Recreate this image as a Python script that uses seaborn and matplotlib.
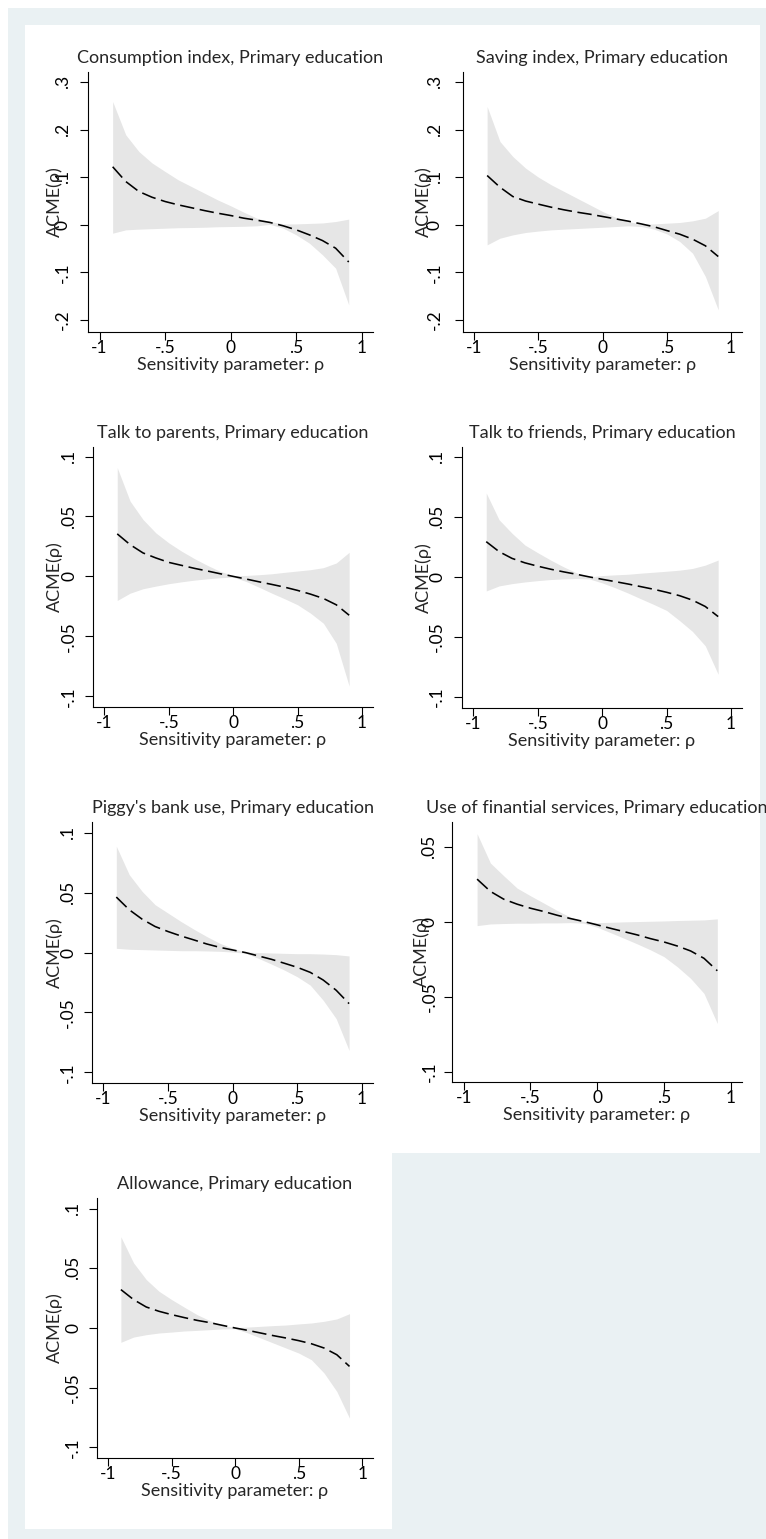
import numpy as np
import pandas as pd
import seaborn as sns
import matplotlib.pyplot as plt
from matplotlib.patches import Rectangle

sns.set_style("ticks")
plt.rcParams['font.family'] = ['Lato', 'DejaVu Sans']

# sensitivity parameter grid
rho = [-0.9, -0.8, -0.7, -0.6, -0.5, -0.4, -0.3, -0.2, -0.1, 0.0,
       0.1, 0.2, 0.3, 0.4, 0.5, 0.6, 0.7, 0.8, 0.9]

titles = ["Consumption index, Primary education",
          "Saving index, Primary education",
          "Talk to parents, Primary education",
          "Talk to friends, Primary education",
          "Piggy's bank use, Primary education",
          "Use of finantial services, Primary education",
          "Allowance, Primary education"]

# ACME estimates and confidence bounds
consumption_mean = [0.122, 0.091, 0.070, 0.058, 0.049, 0.042, 0.036, 0.030, 0.0245, 0.0196,
                    0.014, 0.0098, 0.005, -0.002, -0.0105, -0.021, -0.033, -0.049, -0.078]
consumption_hi = [0.259, 0.189, 0.154, 0.130, 0.112, 0.0945, 0.0805, 0.0665, 0.0525, 0.040,
                  0.0266, 0.014, 0.007, 0.002, 0.002, 0.003, 0.004, 0.007, 0.012]
consumption_lo = [-0.0175, -0.0105, -0.009, -0.008, -0.007, -0.006, -0.0056, -0.005, -0.004, -0.0035,
                  -0.003, -0.002, 0.001, -0.007, -0.021, -0.0385, -0.063, -0.091, -0.168]

saving_mean = [0.1036, 0.079, 0.0595, 0.050, 0.0434, 0.037, 0.0315, 0.0266, 0.0224, 0.0175,
               0.0126, 0.0077, 0.002, -0.004, -0.012, -0.0196, -0.030, -0.044, -0.0665]
saving_hi = [0.2486, 0.175, 0.1435, 0.119, 0.100, 0.084, 0.070, 0.056, 0.042, 0.028,
             0.016, 0.007, 0.0014, 0.002, 0.0035, 0.005, 0.0084, 0.014, 0.030]
saving_lo = [-0.042, -0.028, -0.021, -0.016, -0.013, -0.0105, -0.009, -0.0077, -0.0063, -0.005,
             -0.0035, -0.002, -0.0035, -0.009, -0.019, -0.035, -0.0595, -0.1085, -0.1786]

parents_mean = [0.0355, 0.0265, 0.0196, 0.0154, 0.0117, 0.0092, 0.0067, 0.0045, 0.0022, 0.0,
                -0.0022, -0.0045, -0.0067, -0.009, -0.0117, -0.0148, -0.0184, -0.0237, -0.0324]
parents_hi = [0.0908, 0.0628, 0.0475, 0.0363, 0.028, 0.021, 0.0148, 0.0092, 0.0042, 0.0006,
              0.0008, 0.0014, 0.0022, 0.0034, 0.0045, 0.0056, 0.0073, 0.0112, 0.0201]
parents_lo = [-0.0201, -0.014, -0.0103, -0.0081, -0.0061, -0.0045, -0.0031, -0.002, -0.0011, -0.0006,
              -0.0042, -0.009, -0.014, -0.0187, -0.0237, -0.0307, -0.0391, -0.0559, -0.0916]

friends_mean = [0.0293, 0.021, 0.0154, 0.0117, 0.0089, 0.0064, 0.0042, 0.0022, 0.0, -0.002,
                -0.0039, -0.0059, -0.0081, -0.0103, -0.0128, -0.0156, -0.0193, -0.0246, -0.033]
friends_hi = [0.0698, 0.0475, 0.0363, 0.0265, 0.0201, 0.014, 0.0084, 0.0034, 0.0, 0.0011,
              0.0017, 0.0022, 0.0031, 0.0039, 0.0047, 0.0056, 0.007, 0.0098, 0.014]
friends_lo = [-0.0117, -0.0075, -0.0056, -0.0042, -0.0031, -0.0022, -0.0017, -0.0014, -0.0017, -0.005,
              -0.009, -0.0134, -0.0182, -0.0229, -0.0279, -0.0363, -0.0453, -0.0573, -0.081]

piggy_mean = [0.0463, 0.0357, 0.0278, 0.0217, 0.0175, 0.0138, 0.0105, 0.0071, 0.0043, 0.0021,
              -0.0001, -0.0029, -0.0057, -0.009, -0.0124, -0.0166, -0.023, -0.0315, -0.0427]
piggy_hi = [0.0888, 0.065, 0.051, 0.0399, 0.0329, 0.0259, 0.0194, 0.0133, 0.0077, 0.0035,
            0.0004, -0.0001, -0.0004, -0.0007, -0.001, -0.001, -0.0013, -0.0018, -0.0029]
piggy_lo = [0.0035, 0.0027, 0.0024, 0.0021, 0.0018, 0.0015, 0.0015, 0.0013, 0.001, 0.0004,
            -0.0007, -0.0049, -0.0097, -0.0147, -0.0203, -0.0273, -0.0399, -0.0552, -0.0818]

services_mean = [0.0286, 0.0204, 0.0152, 0.0119, 0.0092, 0.007, 0.0045, 0.0023, 0.0003, -0.0019,
                 -0.0042, -0.0064, -0.0086, -0.0111, -0.0133, -0.016, -0.0193, -0.0242, -0.0325]
services_hi = [0.0589, 0.0393, 0.0308, 0.0226, 0.0175, 0.0126, 0.0077, 0.0032, 0.0003, -0.0004,
               -0.0002, 0.0001, 0.0003, 0.0005, 0.0007, 0.001, 0.0012, 0.0014, 0.0021]
services_lo = [-0.0024, -0.0013, -0.001, -0.0008, -0.0008, -0.0006, -0.0006, -0.0004, -0.0008, -0.0035,
               -0.0071, -0.0108, -0.0146, -0.0186, -0.0231, -0.0298, -0.0376, -0.0476, -0.0677]

allowance_mean = [0.0322, 0.0238, 0.0176, 0.014, 0.0112, 0.0087, 0.0064, 0.0045, 0.0022, 0.0,
                  -0.002, -0.0042, -0.0064, -0.0084, -0.0106, -0.0132, -0.0168, -0.0224, -0.0322]
allowance_hi = [0.0765, 0.0546, 0.0406, 0.0308, 0.0238, 0.0174, 0.0112, 0.0062, 0.0022, 0.0003,
                0.0008, 0.0014, 0.002, 0.0025, 0.0034, 0.0042, 0.0056, 0.0076, 0.012]
allowance_lo = [-0.012, -0.0076, -0.0056, -0.0042, -0.0034, -0.0025, -0.002, -0.0014, -0.0008, -0.0006,
                -0.0042, -0.0084, -0.0126, -0.0168, -0.021, -0.0266, -0.0378, -0.0532, -0.0756]

x_ticks = [-1, -0.5, 0, 0.5, 1]
x_ticklabels = ["-1", "-.5", "0", ".5", "1"]
yt_wide = [-0.2, -0.1, 0, 0.1, 0.2, 0.3]
yl_wide = ["-.2", "-.1", "0", ".1", ".2", ".3"]
yt_narrow = [-0.1, -0.05, 0, 0.05, 0.1]
yl_narrow = ["-.1", "-.05", "0", ".05", ".1"]
yt_services = [-0.1, -0.05, 0, 0.05]
yl_services = ["-.1", "-.05", "0", ".05"]

series = [(consumption_mean, consumption_lo, consumption_hi),
          (saving_mean, saving_lo, saving_hi),
          (parents_mean, parents_lo, parents_hi),
          (friends_mean, friends_lo, friends_hi),
          (piggy_mean, piggy_lo, piggy_hi),
          (services_mean, services_lo, services_hi),
          (allowance_mean, allowance_lo, allowance_hi)]
yticks = [(yt_wide, yl_wide), (yt_wide, yl_wide), (yt_narrow, yl_narrow), (yt_narrow, yl_narrow),
          (yt_narrow, yl_narrow), (yt_services, yl_services), (yt_narrow, yl_narrow)]
ylims = [(-0.225, 0.321), (-0.225, 0.321), (-0.109, 0.108), (-0.109, 0.108),
         (-0.109, 0.109), (-0.1067, 0.0667), (-0.109, 0.109)]

# layout in pixels (left, top, right, bottom) of each plot region, ylabel right edge, tick pad
W, H = 766, 1539
boxes = [(88, 72, 373, 332), (463, 72, 742, 332),
         (93, 447, 373, 707), (462, 447, 742, 708),
         (92, 822, 373, 1083), (452, 822, 742, 1082),
         (97, 1198, 373, 1458)]
ylab_x = [63, 432, 63, 432, 63, 430, 63]
ypads = [6.8, 9.0, 5.8, 6.5, 5.8, 5.0, 5.8]

BG = "#EAF1F3"
BAND = "#E6E6E6"

fig = plt.figure(figsize=(W / 100, H / 100), dpi=100)
fig.patch.set_facecolor("white")


def px_rect(x0, y0, x1, y1, color):
    fig.patches.append(Rectangle((x0 / W, 1 - y1 / H), (x1 - x0) / W, (y1 - y0) / H,
                                 transform=fig.transFigure, facecolor=color,
                                 edgecolor="none", zorder=-10))


px_rect(8, 8, W, H, BG)
cols = [(25, 392), (392, 760)]
rows = [(25, 401), (401, 777), (777, 1153), (1153, 1529)]
for i in range(7):
    cx = cols[i % 2]
    cy = rows[i // 2]
    px_rect(cx[0], cy[0], cx[1], cy[1], "white")

for i, (mean, lo, hi) in enumerate(series):
    l, t, r, b = boxes[i]
    ax = fig.add_axes([l / W, 1 - b / H, (r - l) / W, (b - t) / H])
    ax.set_facecolor("white")
    ax.fill_between(rho, lo, hi, color=BAND, linewidth=0, zorder=1)
    df = pd.DataFrame({"rho": rho, "acme": mean})
    sns.lineplot(data=df, x="rho", y="acme", ax=ax, color="black",
                 linestyle=(0, (9, 3.5)), linewidth=1.15, zorder=2)
    ax.set_xlim(-1.088, 1.085)
    ax.set_ylim(*ylims[i])
    ax.set_xticks(x_ticks)
    ax.set_xticklabels(x_ticklabels)
    ax.set_yticks(yticks[i][0])
    ax.set_yticklabels(yticks[i][1], rotation=90, va="center")
    for side in ["top", "right"]:
        ax.spines[side].set_visible(False)
    for side in ["left", "bottom"]:
        ax.spines[side].set_color("black")
        ax.spines[side].set_linewidth(0.8)
    ax.tick_params(axis="both", direction="out", length=5.5, width=0.8,
                   color="black", labelsize=12.5, labelcolor="black")
    ax.tick_params(axis="x", pad=0.5)
    ax.tick_params(axis="y", pad=ypads[i])
    ax.set_xlabel("Sensitivity parameter: ρ", fontsize=13, labelpad=0.5)
    ax.set_ylabel("ACME(ρ)", fontsize=13)
    ax.yaxis.set_label_coords((ylab_x[i] - l) / (r - l), 0.5)
    ax.set_title(titles[i], fontsize=13, pad=6.5)

fig.savefig("out.png", dpi=100, facecolor=fig.get_facecolor())
